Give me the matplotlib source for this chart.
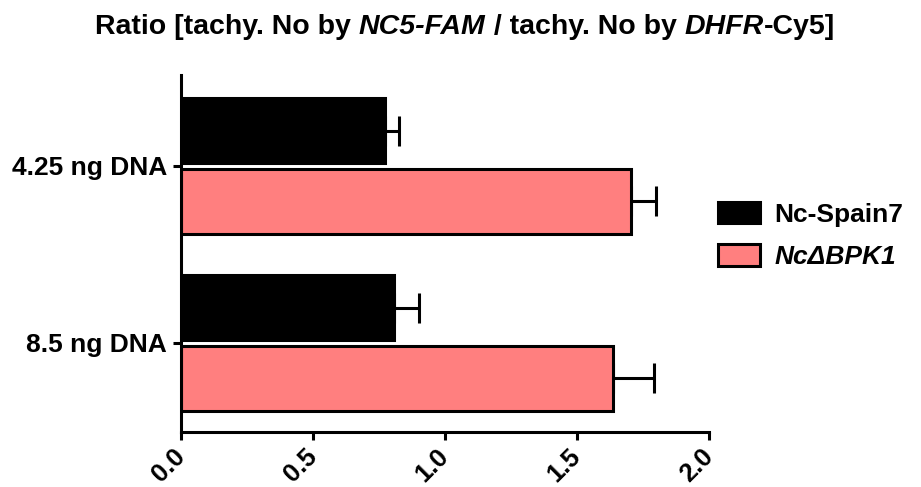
import numpy as np
import matplotlib.pyplot as plt
from matplotlib.offsetbox import TextArea, HPacker, AnchoredOffsetbox

plt.rcParams['font.family'] = ['Liberation Sans', 'DejaVu Sans']
plt.rcParams['font.weight'] = 'bold'

categories = ['4.25 ng DNA', '8.5 ng DNA']
series = ['Nc-Spain7', 'Nc\u0394BPK1']
means_spain = [0.773, 0.807]
err_spain = [0.053, 0.095]
means_bpk = [1.705, 1.636]
err_bpk = [0.095, 0.155]
xticks = [0.0, 0.5, 1.0, 1.5, 2.0]

fig = plt.figure(figsize=(9.21, 4.87), dpi=100)
ax = fig.add_axes([0.1965, 0.1129, 0.5733, 0.7331])

y = np.arange(len(categories))
h = 0.37
off = 0.2
lw = 2.2

ax.barh(y - off, means_spain, height=h, color='black', edgecolor='black',
        linewidth=lw, label=series[0], zorder=2)
ax.barh(y + off, means_bpk, height=h, color='#ff7f7f', edgecolor='black',
        linewidth=lw, label=series[1], zorder=2)
ax.errorbar(means_spain, y - off, xerr=[np.zeros(2), err_spain], fmt='none',
            ecolor='black', elinewidth=lw, capsize=11, capthick=lw, zorder=1)
ax.errorbar(means_bpk, y + off, xerr=[np.zeros(2), err_bpk], fmt='none',
            ecolor='black', elinewidth=lw, capsize=11, capthick=lw, zorder=1)

ax.set_ylim(1.503, -0.514)
ax.set_yticks(y)
ax.set_yticklabels(categories, fontsize=19, fontweight='bold')
ax.set_xlim(0, 2.0)
ax.set_xticks(xticks)
ax.set_xticklabels([f'{v:.1f}' for v in xticks], fontsize=18.5, fontweight='bold',
                   rotation=45, ha='right', va='center', rotation_mode='anchor')

for s in ['top', 'right']:
    ax.spines[s].set_visible(False)
for s in ['left', 'bottom']:
    ax.spines[s].set_linewidth(lw)
ax.tick_params(axis='both', width=lw, length=6, direction='out')
ax.tick_params(axis='x', pad=9)
ax.tick_params(axis='y', pad=4)

leg = ax.legend(loc='center left', bbox_to_anchor=(0.7796, 0.5164),
                bbox_transform=fig.transFigure, frameon=False,
                prop={'size': 19, 'weight': 'bold'}, handlelength=1.6,
                handleheight=0.85, handletextpad=0.55, labelspacing=0.68,
                borderpad=0, borderaxespad=0)
leg.get_texts()[1].set_fontstyle('italic')

# title with mixed italics
parts = [('Ratio [tachy. No by ', 'normal'), ('NC5-FAM', 'italic'),
         (' / tachy. No by ', 'normal'), ('DHFR', 'italic'), ('-Cy5]', 'normal')]
areas = [TextArea(t, textprops=dict(fontsize=20.5, fontweight='bold', fontstyle=st))
         for t, st in parts]
box = HPacker(children=areas, pad=0, sep=0, align='baseline')
anch = AnchoredOffsetbox(loc='center', child=box, frameon=False,
                         bbox_to_anchor=(0.505, 0.945),
                         bbox_transform=fig.transFigure, borderpad=0, pad=0)
fig.add_artist(anch)

fig.savefig('out.png', dpi=100)
